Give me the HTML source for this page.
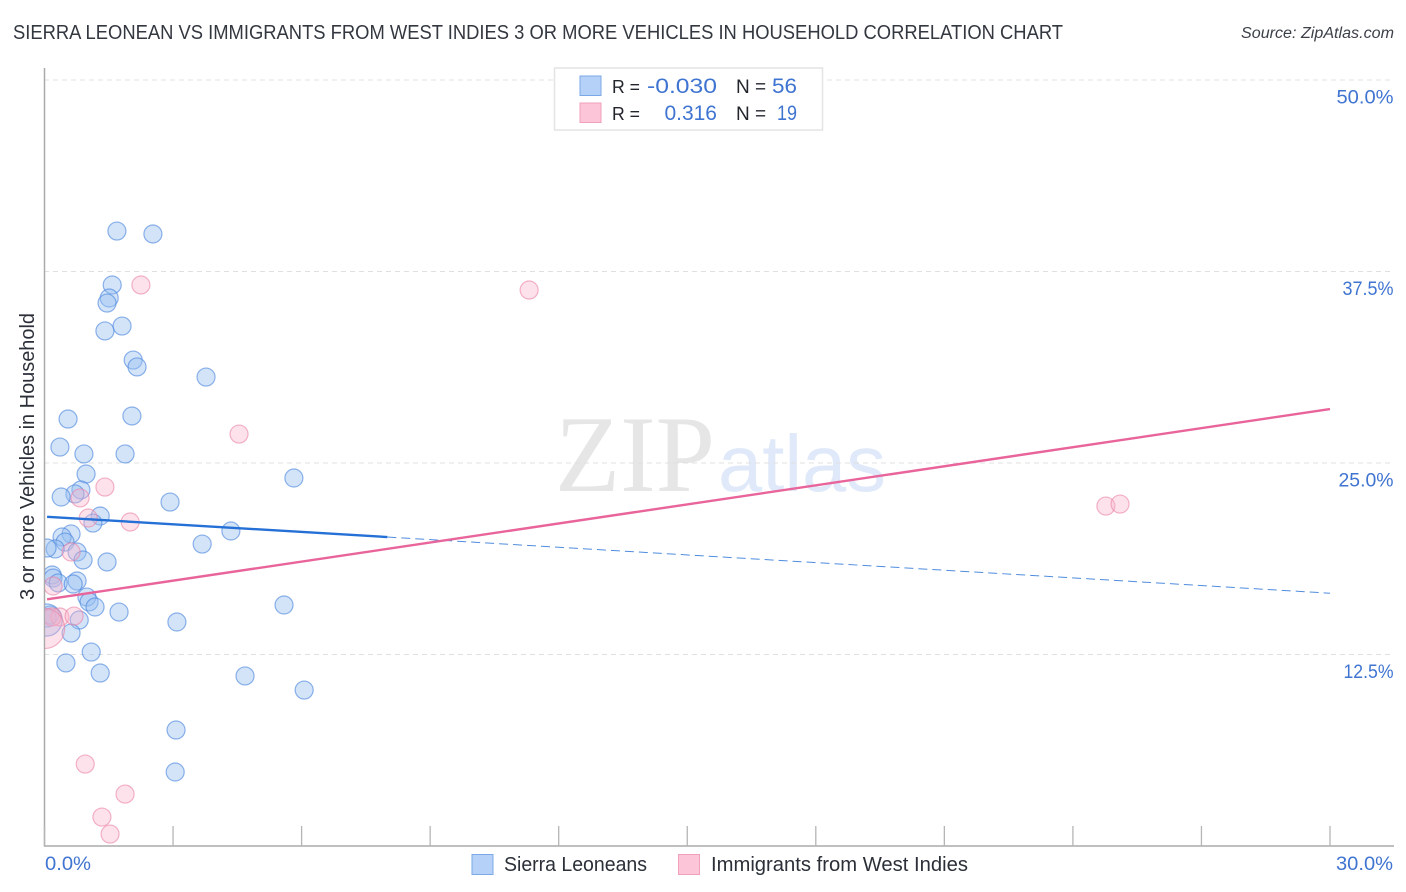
<!DOCTYPE html>
<html lang="en">
<head>
<meta charset="utf-8">
<title>Sierra Leonean vs Immigrants from West Indies 3 or More Vehicles in Household Correlation Chart</title>
<style>
html,body{margin:0;padding:0;background:#fff;}
body{width:1406px;height:892px;overflow:hidden;}
svg{display:block;font-family:"Liberation Sans",sans-serif;}
</style>
</head>
<body>
<svg id="chart" width="1406" height="892" viewBox="0 0 1406 892" xmlns="http://www.w3.org/2000/svg">
  <defs>
    <clipPath id="plot-clip"><rect x="45" y="60" width="1349" height="786"/></clipPath>
  </defs>
  <rect width="1406" height="892" fill="#fff"/>

  <text x="13" y="39" font-size="20" fill="#33373f" textLength="1050" lengthAdjust="spacingAndGlyphs">SIERRA LEONEAN VS IMMIGRANTS FROM WEST INDIES 3 OR MORE VEHICLES IN HOUSEHOLD CORRELATION CHART</text>
  <text x="1241" y="38" font-size="15.5" font-style="italic" fill="#3c4048" textLength="153" lengthAdjust="spacingAndGlyphs">Source: ZipAtlas.com</text>

  <g>
    <text x="555" y="491" font-family="'Liberation Serif',serif" font-size="109" fill="#e6e6e6" textLength="160" lengthAdjust="spacingAndGlyphs">ZIP</text>
    <text x="718" y="491" font-size="80" fill="#dfe9f9" textLength="168" lengthAdjust="spacingAndGlyphs">atlas</text>
  </g>

  <g id="grid"></g>
  <g id="axes"></g>
  <g id="points" clip-path="url(#plot-clip)"></g>
  <g id="trends"></g>
  <g id="ylabels"></g>

  <text transform="translate(34,456.500) rotate(-90)" font-size="20" fill="#2b2f38" text-anchor="middle" textLength="287" lengthAdjust="spacingAndGlyphs">3 or more Vehicles in Household</text>
  <text x="45" y="870" font-size="19.5" fill="#3f74d1" textLength="46" lengthAdjust="spacingAndGlyphs">0.0%</text>
  <text x="1336" y="870" font-size="19.5" fill="#3f74d1" textLength="57" lengthAdjust="spacingAndGlyphs">30.0%</text>

  <g>
    <rect x="554.5" y="68" width="268" height="62" fill="#fff" stroke="#e4e4e4" stroke-width="1.5"/>
    <rect x="580" y="76" width="21" height="19.5" fill="#b5d1f7" stroke="#7aa9e6" stroke-width="1"/>
    <rect x="580" y="103" width="21" height="19.5" fill="#fcc5d8" stroke="#f0a0b9" stroke-width="1"/>
    <text x="612" y="93" font-size="18.5" fill="#22252c" textLength="28" lengthAdjust="spacingAndGlyphs">R =</text>
    <text x="647" y="93" font-size="21" fill="#3f74d1" textLength="70" lengthAdjust="spacingAndGlyphs">-0.030</text>
    <text x="736" y="93" font-size="19" fill="#22252c">N =</text>
    <text x="772" y="93" font-size="21" fill="#3f74d1" textLength="25" lengthAdjust="spacingAndGlyphs">56</text>
    <text x="612" y="120" font-size="18.5" fill="#22252c" textLength="28" lengthAdjust="spacingAndGlyphs">R =</text>
    <text x="717" y="120" font-size="21" fill="#3f74d1" text-anchor="end">0.316</text>
    <text x="736" y="120" font-size="19" fill="#22252c">N =</text>
    <text x="777" y="120" font-size="21" fill="#3f74d1" textLength="20" lengthAdjust="spacingAndGlyphs">19</text>
  </g>

  <g>
    <rect x="472" y="854.500" width="21" height="20" fill="#b5d1f7" stroke="#7aa9e6" stroke-width="1"/>
    <text x="504" y="871" font-size="20" fill="#2b2f38" textLength="143" lengthAdjust="spacingAndGlyphs">Sierra Leoneans</text>
    <rect x="678.500" y="854.500" width="21" height="20" fill="#fcc5d8" stroke="#f0a0b9" stroke-width="1"/>
    <text x="711" y="871" font-size="20" fill="#2b2f38" textLength="257" lengthAdjust="spacingAndGlyphs">Immigrants from West Indies</text>
  </g>
</svg>
<script>
var yTicks = [12.5, 25, 37.5, 50];
var yTickLabels = ["12.5%", "25.0%", "37.5%", "50.0%"];
var xTicks = [0, 3, 6, 9, 12, 15, 18, 21, 24, 27, 30];

var blueX = [1.69,2.53,1.58,1.51,1.46,1.81,1.41,2.07,2.16,3.77,2.04,0.55,0.36,0.92,1.88,0.97,5.82,0.85,0.71,0.39,2.93,1.30,1.13,4.35,0.62,0.41,0.48,3.68,0.25,0.06,0.76,0.90,1.46,0.18,0.20,0.76,0.32,0.67,0.99,1.04,1.18,5.59,1.74,0.13,0.06,0.81,3.09,0.62,1.09,0.50,1.30,4.68,6.06,3.07,3.05,0.04];
var blueY = [40.14,39.95,36.62,35.77,35.44,33.94,33.62,31.72,31.27,30.61,28.07,27.87,26.04,25.59,25.59,24.28,24.02,23.24,22.98,22.78,22.45,21.54,21.08,20.56,20.37,20.17,19.84,19.71,19.39,19.45,19.19,18.67,18.54,17.69,17.49,17.30,17.17,17.10,16.25,15.93,15.60,15.73,15.27,15.08,14.88,14.75,14.62,13.90,12.66,11.95,11.29,11.10,10.18,7.57,4.83,14.75];
var blueWeight = [1,1,1,1,1,1,1,1,1,1,1,1,1,1,1,1,1,1,1,1,1,1,1,1,1,1,1,1,1,1,1,1,1,1,1,1,1,1,1,1,1,1,1,1,1,1,1,1,1,1,1,1,1,1,1,3.2];

var pinkX = [2.25,11.31,4.54,1.41,0.83,1.02,2.00,0.62,0.20,0.36,0.18,0.69,24.77,25.10,0.95,1.88,1.34,1.53,0];
var pinkY = [36.62,36.29,26.89,23.43,22.72,21.41,21.15,19.19,16.97,14.95,14.95,15.01,22.19,22.32,5.35,3.39,1.89,0.78,14.2];
var pinkWeight = [1,1,1,1,1,1,1,1,1,1,1,1,1,1,1,1,1,1,5];

var blueTrendStart = 21.5;
var blueTrendEnd = 16.5;
var blueSolidUntil = 8;
var pinkTrendStart = 16.1;
var pinkTrendEnd = 28.52;

var NS = "http://www.w3.org/2000/svg";
var plotLeft = 44.5, plotRight = 1330, plotBottom = 846, plotFull = 80;
function xScale(v) { return plotLeft + (v / 30) * (plotRight - plotLeft); }
function yScale(v) { return plotBottom - (v / 50) * (plotBottom - plotFull); }
function mk(tag, parent, attrs) {
  var el = document.createElementNS(NS, tag);
  for (var k in attrs) { el.setAttribute(k, attrs[k]); }
  parent.appendChild(el);
  return el;
}
function labelWidth(text) {
  var w = 57;
  for (var i = 0; i < text.length; i++) {
    if (text[i] === "1") { w -= 5; }
    if (text[i] === "2") { w -= 2; }
    if (text[i] === "7") { w -= 6; }
  }
  return w;
}

var gridG = document.getElementById("grid");
var axesG = document.getElementById("axes");
var pointsG = document.getElementById("points");
var trendsG = document.getElementById("trends");
var labelsG = document.getElementById("ylabels");

yTicks.forEach(function (t, i) {
  var line = mk("line", gridG, { x1: 44, x2: 1394, y1: yScale(t), y2: yScale(t), stroke: "#e0e0e0", "stroke-width": 1, "stroke-dasharray": "5 4" });
  
  
  var w = labelWidth(yTickLabels[i]);
  var label = mk("text", labelsG, { x: 1393.500 - w, y: yScale(t) + 23.500, "font-size": 19.5, fill: "#3f74d1", textLength: w, lengthAdjust: "spacingAndGlyphs" });
  label.textContent = yTickLabels[i];
  
  
});

var yAxis = mk("line", axesG, { x1: 44.5, x2: 44.5, y1: 68, y2: 846.5, stroke: "#aaaaaa", "stroke-width": 1.5 });


var xAxis = mk("line", axesG, { x1: 44, x2: 1394, y1: 846, y2: 846, stroke: "#aaaaaa", "stroke-width": 1.5 });


xTicks.forEach(function (t) {
  var tick = mk("line", axesG, { x1: xScale(t), x2: xScale(t), y1: 826, y2: 846, stroke: "#b5b5b5", "stroke-width": 1.3 });
  
  
});

blueX.forEach(function (v, i) {
  var c = mk("circle", pointsG, { cx: xScale(v), cy: yScale(blueY[i]), r: 9 * Math.sqrt(blueWeight[i]), fill: "rgba(150,190,240,0.42)", stroke: "rgba(70,130,220,0.6)", "stroke-width": 1.2 });
  
  
});
pinkX.forEach(function (v, i) {
  var c = mk("circle", pointsG, { cx: xScale(v), cy: yScale(pinkY[i]), r: 9 * Math.sqrt(pinkWeight[i]), fill: "rgba(250,180,202,0.38)", stroke: "rgba(235,130,165,0.6)", "stroke-width": 1.2 });
  
  
});

function blueAt(x) { return blueTrendStart + (blueTrendEnd - blueTrendStart) * x / 30; }
var blueSolid = mk("line", trendsG, { x1: xScale(0.06), y1: yScale(blueAt(0.06)), x2: xScale(blueSolidUntil), y2: yScale(blueAt(blueSolidUntil)), stroke: "#2470d6", "stroke-width": 2.4 });


var blueDash = mk("line", trendsG, { x1: xScale(blueSolidUntil), y1: yScale(blueAt(blueSolidUntil)), x2: xScale(30), y2: yScale(blueTrendEnd), stroke: "#2470d6", "stroke-width": 1, "stroke-dasharray": "9 5", opacity: 0.8 });


var pinkTrend = mk("line", trendsG, { x1: xScale(0.06), y1: yScale(pinkTrendStart), x2: xScale(30), y2: yScale(pinkTrendEnd), stroke: "#e8649a", "stroke-width": 2.4 });


</script>
</body>
</html>
